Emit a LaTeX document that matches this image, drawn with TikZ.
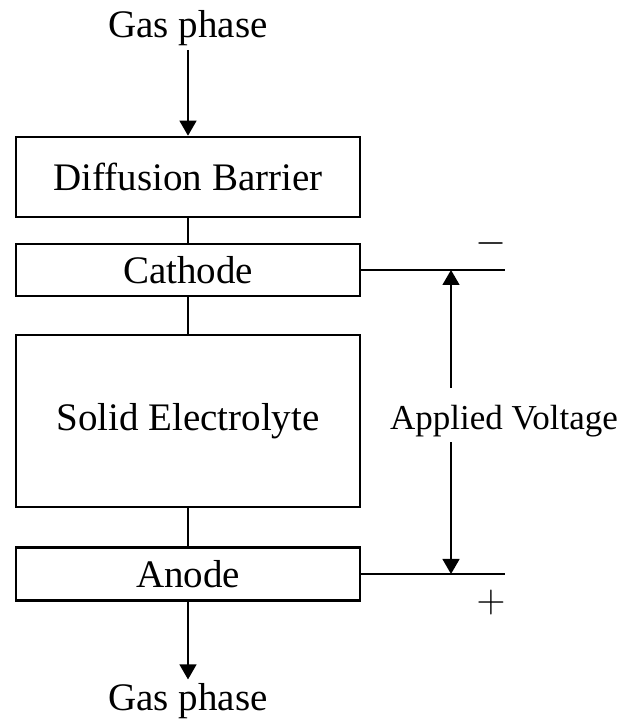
\documentclass[tikz,border=0pt]{standalone}
\usepackage{fix-cm}
\usepackage{fontspec}
\setmainfont{Liberation Serif}
\usetikzlibrary{arrows.meta,positioning}
\tikzset{
  layer/.style={draw,line width=2.6pt,minimum width=344pt,inner sep=0pt,font=\fontsize{39}{44}\selectfont},
  label/.style={font=\fontsize{39}{44}\selectfont},
  sign/.style={inner sep=0pt,font=\fontsize{40}{44}\selectfont},
  lead/.style={line width=1.3pt},
  flow/.style={line width=1.3pt,-{Triangle[length=15pt,width=17pt]}}
}
\begin{document}
\begin{tikzpicture}[x=1pt,y=1pt]
      \useasboundingbox (0,0) rectangle (623,719);
      % Gas in
      \node[label,anchor=base] (gasin) at (188,681) {Gas phase};
      % Layers
      \node[layer,minimum height=80pt] (barrier) at (188,542) {Diffusion Barrier};
      \node[layer,minimum height=52pt] (cathode) at (188,449) {Cathode};
      \node[layer,minimum height=172pt] (electrolyte) at (188,298) {Solid Electrolyte};
      \node[layer,minimum height=53pt] (anode) at (188,145) {Anode};
      % Gas out
      \node[label,anchor=base] (gasout) at (188,9) {Gas phase};
      % Flow through the cell
      \draw[flow] (gasin.south -| barrier.north) -- (barrier.north);
      \draw[lead] (barrier) -- (cathode);
      \draw[lead] (cathode) -- (electrolyte);
      \draw[lead] (electrolyte) -- (anode);
      \draw[flow] (anode.south) -- (anode.south |- gasout.north);
      % Leads
      \coordinate (cend) at (505,449);
      \coordinate (aend) at (505,145);
      \coordinate (vtop) at (451,449);
      \coordinate (vbot) at (451,145);
      \draw[lead] (cathode.east) -- (cend);
      \draw[lead] (anode.east) -- (aend);
      \node[sign] (minus) at (491,475) {$-$};
      \node[sign] (plus) at (491,116) {$+$};
      % Applied voltage
      \node[anchor=base,inner sep=0pt,text height=24pt,text depth=8pt,font=\fontsize{35}{40}\selectfont] (volt) at (504,289) {Applied Voltage};
      \draw[flow,shorten <=18pt] (volt.north -| vtop) -- (vtop);
      \draw[flow,shorten <=4pt] (volt.south -| vbot) -- (vbot);
\end{tikzpicture}
\end{document}
